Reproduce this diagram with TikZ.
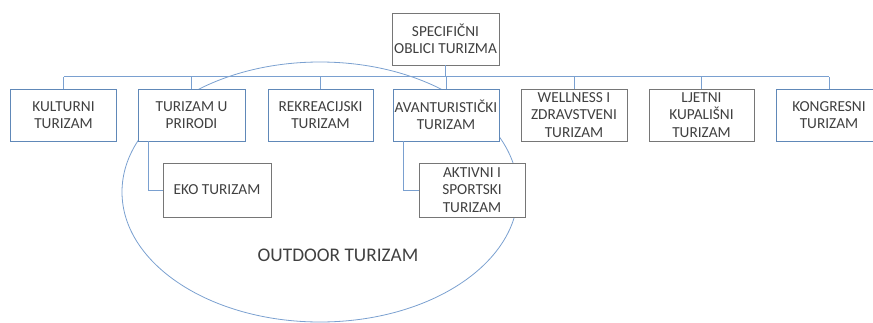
\documentclass[tikz,border=0pt]{standalone}
\usepackage{fontspec}
\setmainfont{Carlito}

\begin{document}
\begin{tikzpicture}[x=1pt,y=1pt,yscale=-1,xscale=1,
  boxtext/.style={align=center, inner xsep=0pt, inner ysep=1pt, text={rgb,255:red,64;green,64;blue,64}, font=\fontsize{15.3}{17.5}\selectfont},
  bluebox/.style={boxtext, draw={rgb,255:red,96;green,136;blue,184}, fill=white, line width=0.9pt, minimum width=106pt, minimum height=52pt},
  greybox/.style={boxtext, draw={rgb,255:red,118;green,118;blue,118}, fill=white, line width=0.9pt, minimum width=106pt, minimum height=52pt},
  conn/.style={draw={rgb,255:red,122;green,160;blue,208}, line width=0.8pt}]
\useasboundingbox (0,0) rectangle (873,322);

%Shape: Ellipse
\draw [conn] (320,192) ellipse [x radius=198, y radius=130];

% Text Node
\node [greybox, minimum width=107pt] (top) at (445.5,39) {SPECIFIČNI\\OBLICI TURIZMA};
% Text Node
\node [bluebox] (kult) at (63.5,115) {KULTURNI\\TURIZAM};
% Text Node
\node [bluebox, minimum width=107pt] (prir) at (191.5,115) {TURIZAM U\\PRIRODI};
% Text Node
\node [bluebox, minimum width=105pt] (rekr) at (320.5,115) {REKREACIJSKI\\TURIZAM};
% Text Node
\node [bluebox] (avant) at (446,115) {AVANTURISTIČKI\\TURIZAM};
% Text Node
\node [greybox] (well) at (574,115) {WELLNESS I\\ZDRAVSTVENI\\TURIZAM};
% Text Node
\node [greybox, minimum width=105pt] (ljet) at (701.5,115) {LJETNI\\KUPALIŠNI\\TURIZAM};
% Text Node
\node [bluebox] (kong) at (829,115) {KONGRESNI\\TURIZAM};
% Text Node
\node [greybox, minimum width=108pt, minimum height=54pt] (eko) at (217,190) {EKO TURIZAM};
% Text Node
\node [greybox, minimum height=54pt] (akt) at (472,190) {AKTIVNI I\\SPORTSKI\\TURIZAM};
% Text Node
\node [boxtext, font=\fontsize{19.3}{23}\selectfont] (outdoor) at (338,255) {OUTDOOR TURIZAM};

%Straight Lines
\path (kult.north) ++(0,-12) coordinate (busL);
\coordinate (busR) at (kong.north |- busL);
\draw [conn] (busL) -- (busR);
\draw [conn] (top.south) -- (top.south |- busL);
\foreach \n in {kult,prir,rekr,avant,well,ljet,kong}
  \draw [conn] (\n.north) -- (\n.north |- busL);
\draw [conn] ([xshift=11pt]prir.south west) |- (eko.west);
\draw [conn] ([xshift=11pt]avant.south west) |- (akt.west);

\end{tikzpicture}
\end{document}
